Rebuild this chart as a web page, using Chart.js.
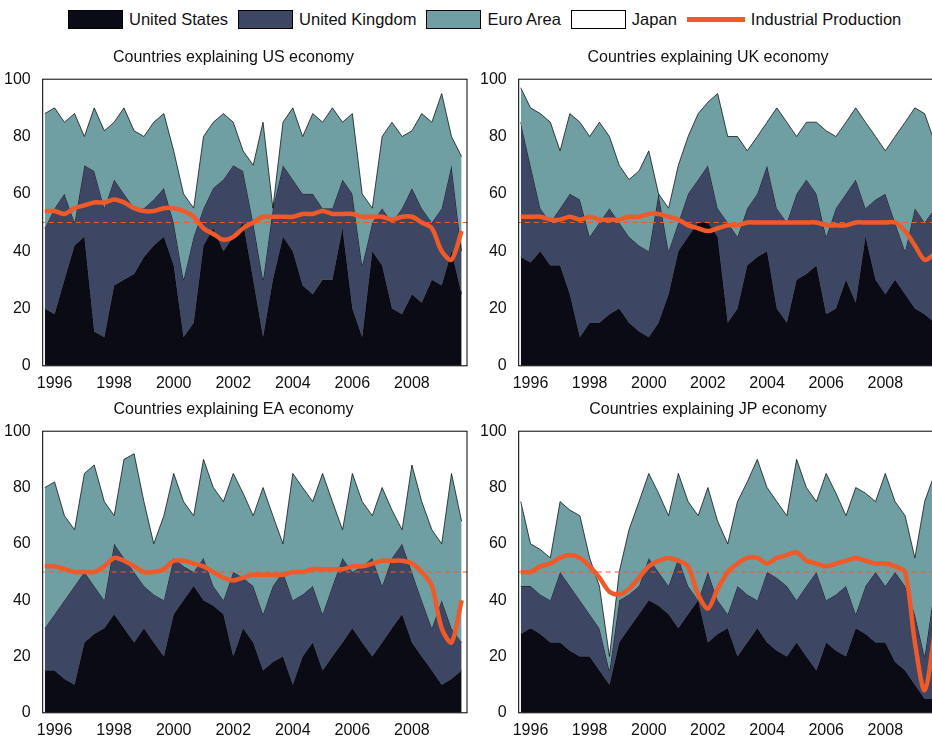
<!DOCTYPE html>
<html>
<head>
<meta charset="utf-8">
<script src="https://cdn.jsdelivr.net/npm/chart.js@4.4.0/dist/chart.umd.min.js"></script>
<style>
  html, body { margin: 0; padding: 0; background: #fff; overflow: hidden; width: 932px; height: 740px; }
  body { position: relative; font-family: "Liberation Sans", Arial, sans-serif; }
  .panel { position: absolute; }
  #legend { position: absolute; top: 10px; left: 68px; display: flex; align-items: center; font-size: 16.5px; color: #111; }
  #legend span.sw { display: inline-block; width: 55px; height: 19px; border: 1px solid #000; margin-right: 6px; box-sizing: border-box; }
  #legend span.ln { display: inline-block; width: 58px; height: 5px; background: #f05a28; margin-right: 6px; }
  #legend .item { display: flex; align-items: center; margin-right: 10px; }
</style>
</head>
<body>
<div id="legend">
  <div class="item"><span class="sw" style="background:#0b0b16"></span>United States</div>
  <div class="item"><span class="sw" style="background:#3d4663"></span>United Kingdom</div>
  <div class="item"><span class="sw" style="background:#6f9ea3"></span>Euro Area</div>
  <div class="item"><span class="sw" style="background:#fff"></span>Japan</div>
  <div class="item"><span class="ln"></span>Industrial Production</div>
</div>
<div class="panel" style="left:0;top:46px;width:475px;height:347px"><canvas id="c0"></canvas></div>
<div class="panel" style="left:476px;top:46px;width:464px;height:347px"><canvas id="c1"></canvas></div>
<div class="panel" style="left:0;top:398px;width:475px;height:342px"><canvas id="c2"></canvas></div>
<div class="panel" style="left:476px;top:398px;width:464px;height:342px"><canvas id="c3"></canvas></div>
<script>
// sample dates, every 4 months
const dates = [1995.67,1996.0,1996.33,1996.67,1997.0,1997.33,1997.67,1998.0,1998.33,1998.67,1999.0,1999.33,1999.67,2000.0,2000.33,2000.67,2001.0,2001.33,2001.67,2002.0,2002.33,2002.67,2003.0,2003.33,2003.67,2004.0,2004.33,2004.67,2005.0,2005.33,2005.67,2006.0,2006.33,2006.67,2007.0,2007.33,2007.67,2008.0,2008.33,2008.67,2009.0,2009.33,2009.67];
const yearTicks = [1996,1998,2000,2002,2004,2006,2008];
const titles = ["Countries explaining US economy","Countries explaining UK economy","Countries explaining EA economy","Countries explaining JP economy"];

// cumulative shares (top of each band)
const usTopUS = [20,18,30,42,45,12,10,28,30,32,38,42,45,35,10,15,42,48,40,45,50,30,10,30,45,40,28,25,30,30,48,20,10,40,35,20,18,25,22,30,28,40,25];
const ukTopUS = [48,55,60,50,70,68,55,65,60,55,55,58,62,50,30,45,55,62,65,70,68,50,30,55,70,65,60,60,55,55,65,60,35,50,55,50,55,62,55,50,55,70,40];
const eaTopUS = [88,90,85,88,80,90,82,85,90,82,80,85,88,75,60,55,80,85,88,85,75,70,85,55,85,90,80,88,85,90,85,88,60,55,80,85,80,82,88,85,95,80,73];
const ipUS = [54,54,53,55,56,57,57,58,57,55,54,54,55,55,54,52,48,46,44,45,48,50,52,52,52,52,53,53,54,53,53,53,52,52,52,51,52,52,50,48,40,37,47];

const usTopUK = [38,36,40,35,35,25,10,15,15,18,20,15,12,10,15,25,40,45,50,50,45,15,20,35,38,40,20,15,30,32,35,18,20,30,22,45,30,25,30,25,20,18,15];
const ukTopUK = [85,70,55,50,55,60,58,45,50,55,50,45,42,40,60,40,50,60,65,70,55,50,45,55,60,70,55,50,60,65,60,45,55,60,65,55,58,60,50,40,55,50,55];
const eaTopUK = [97,90,88,85,75,88,85,80,85,80,70,65,68,75,60,55,70,80,88,92,95,80,80,75,80,85,90,85,80,85,85,82,80,85,90,85,80,75,80,85,90,88,78];
const ipUK = [52,52,52,51,51,52,51,52,51,51,51,52,52,53,53,52,51,49,48,47,48,49,49,50,50,50,50,50,50,50,50,49,49,49,50,50,50,50,50,47,42,37,39];

const usTopEA = [15,15,12,10,25,28,30,35,30,25,30,25,20,35,40,45,40,38,35,20,30,25,15,18,20,10,20,25,15,20,25,30,25,20,25,30,35,25,20,15,10,12,15];
const ukTopEA = [30,35,40,45,50,45,40,60,55,50,45,42,40,55,52,50,55,45,40,50,48,45,35,45,50,40,42,45,35,45,55,50,52,55,45,55,60,50,40,30,40,30,25];
const eaTopEA = [80,82,70,65,85,88,75,70,90,92,75,60,70,85,75,70,90,80,75,85,78,70,80,70,60,85,80,75,85,75,65,85,75,70,80,72,65,88,75,65,60,85,68];
const ipEA = [52,52,51,50,50,50,52,55,54,52,50,50,51,54,54,53,52,50,48,47,48,49,49,49,49,50,50,51,51,51,51,52,52,53,54,54,54,53,50,45,30,25,40];

const usTopJP = [28,30,28,25,25,22,20,20,15,10,25,30,35,40,38,35,30,35,40,25,28,30,20,25,30,25,22,20,25,20,15,25,22,20,30,28,25,25,18,15,10,5,5];
const ukTopJP = [45,45,42,40,50,45,40,35,30,15,40,42,45,55,50,45,55,45,40,50,40,35,45,42,40,50,48,45,40,45,50,40,42,45,35,45,50,45,50,45,35,20,45];
const eaTopJP = [75,60,58,55,75,72,70,55,45,20,50,65,75,85,78,70,85,75,70,80,68,60,75,82,90,80,75,70,90,80,75,85,78,70,80,78,75,85,75,70,55,75,85];
const ipJP = [50,50,52,53,55,56,55,52,48,43,42,44,48,52,54,55,54,52,42,37,44,50,53,55,55,53,55,56,57,54,53,52,53,54,55,54,53,53,52,50,25,8,28];

const panels = [
  [usTopUS, ukTopUS, eaTopUS, ipUS],
  [usTopUK, ukTopUK, eaTopUK, ipUK],
  [usTopEA, ukTopEA, eaTopEA, ipEA],
  [usTopJP, ukTopJP, eaTopJP, ipJP]
];

const xy = (arr) => arr.map((v, i) => ({ x: dates[i], y: v }));

const boxPlugin = {
  id: "box",
  afterDraw(chart) {
    const a = chart.chartArea, ctx = chart.ctx;
    ctx.save();
    ctx.strokeStyle = "#000";
    ctx.lineWidth = 1;
    ctx.strokeRect(a.left, a.top, a.right - a.left, a.bottom - a.top);
    ctx.restore();
  }
};

panels.forEach(([us, uk, ea, ip], k) => {
  const area = (data, color, fill, order) => ({
    data: xy(data), backgroundColor: color, borderColor: "#000", borderWidth: 0.7,
    fill, pointRadius: 0, tension: 0, order
  });
  new Chart(document.getElementById("c" + k), {
    type: "line",
    data: {
      datasets: [
        area(us, "#0b0b16", "origin", 5),
        area(uk, "#3d4663", "-1", 4),
        area(ea, "#6f9ea3", "-1", 3),
        { data: [{ x: 1995.5, y: 50 }, { x: 2010, y: 50 }], borderColor: "#f05a28", borderWidth: 1,
          borderDash: [5, 4], pointRadius: 0, fill: false, order: 1 },
        { data: xy(ip), borderColor: "#f05a28", borderWidth: 4.5, pointRadius: 0,
          fill: false, tension: 0.3, order: 0 }
      ]
    },
    options: {
      animation: false, responsive: true, maintainAspectRatio: false,
      layout: { padding: { top: 0, right: k % 2 ? 0 : 8, bottom: 0, left: 0 } },
      plugins: {
        legend: { display: false }, tooltip: { enabled: false },
        title: { display: true, text: titles[k], color: "#111",
          font: { size: 16, weight: "normal", family: "Liberation Sans" }, padding: { top: 2, bottom: 12 } }
      },
      scales: {
        x: {
          type: "linear", min: 1995.6, max: 2009.85,
          afterBuildTicks: (s) => { s.ticks = yearTicks.map((v) => ({ value: v })); },
          grid: { display: false },
          ticks: { color: "#111", font: { size: 16, family: "Liberation Sans" }, padding: 0,
            maxRotation: 0, callback: (v) => String(v) }
        },
        y: {
          min: 0, max: 100,
          grid: { display: false },
          ticks: { stepSize: 20, color: "#111", font: { size: 16, family: "Liberation Sans" }, padding: 4 }
        }
      }
    },
    plugins: [boxPlugin]
  });
});
</script>
</body>
</html>
